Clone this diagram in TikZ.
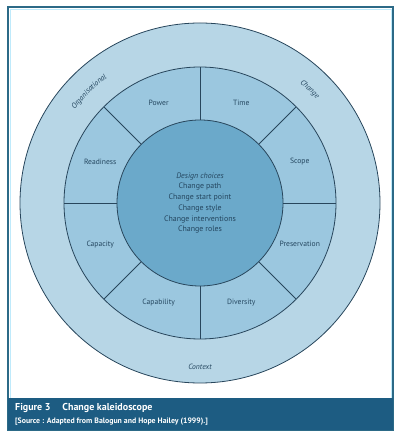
\documentclass[tikz,border=0pt]{standalone}
\usepackage{fontspec}
\setmainfont{PT Sans}
\usepackage{tikz}
\usetikzlibrary{decorations.text}

\definecolor{frameblue}{HTML}{2C6A87}
\definecolor{captionblue}{HTML}{1D5C82}
\definecolor{outerblue}{HTML}{B7D6E6}
\definecolor{midblue}{HTML}{9BC7DF}
\definecolor{innerblue}{HTML}{6BA9CA}
\definecolor{lineblue}{HTML}{28465C}
\definecolor{textblue}{HTML}{24465F}

\begin{document}
\begin{tikzpicture}[x=1pt,y=1pt,
  ring line/.style={draw=lineblue,line width=0.8pt},
  sector node/.style={font=\fontsize{7.6}{9}\selectfont,text=textblue},
  context node/.style={font=\fontsize{7.6}{9}\selectfont\itshape,text=textblue},
  arc text/.style={decorate,decoration={text along path,text align=center,
      text={|\fontsize{7.6}{9}\selectfont\itshape\color{textblue}|#1}}},
  center node/.style={font=\fontsize{7.9}{10.7}\selectfont,text=textblue,align=center}]
  \useasboundingbox (0,0) rectangle (412,444);
  % frame and caption band
  \draw[draw=frameblue,line width=2pt,fill=white] (8,14) rectangle (393,437);
  \draw[draw=cyan!25,line width=0.5pt] (9.8,46) rectangle (391.2,435.2);
  \fill[captionblue] (8,14) rectangle (393,46);
  \coordinate (c) at (200,241);
  % rings
  \filldraw[fill=outerblue,ring line] (c) circle (180pt);
  \filldraw[fill=midblue,ring line] (c) circle (136pt);
  \filldraw[fill=innerblue,ring line] (c) circle (83pt);
  \foreach \a in {0,45,...,315}
    \draw[ring line] ([shift={(\a:83)}]c) -- ([shift={(\a:136)}]c);
  % the eight factors
  \foreach \ang/\name/\txt in {112.5/power/Power,67.5/time/Time,22.5/scope/Scope,
      -22.5/pres/Preservation,-67.5/div/Diversity,-112.5/capab/Capability,
      -157.5/capac/Capacity,157.5/ready/Readiness}
    \node[sector node] (\name) at ([shift={(\ang:108)}]c) {\txt};
  \node[center node] (choices) at (c) {\textit{Design choices}\\Change path\\Change start point\\Change style\\Change interventions\\Change roles};
  % outer ring
  \path[arc text=Organisational] ([shift={(165:156)}]c) arc[start angle=165,end angle=105,radius=156];
  \path[arc text=Change] ([shift={(76:156)}]c) arc[start angle=76,end angle=16,radius=156];
  \node[context node] (ctx) at ([shift={(-90:164)}]c) {Context};
  % caption
  \node[anchor=west,text=white,font=\fontsize{10}{12}\selectfont\bfseries,inner sep=0pt] (fig) at (15,36) {Figure 3\hspace{1.2em}Change kaleidoscope};
  \node[anchor=west,text=white,font=\fontsize{7.8}{9}\selectfont\bfseries,inner sep=0pt] (src) at (15,22.5) {[Source : Adapted from Balogun and Hope Hailey (1999).]};
\end{tikzpicture}
\end{document}
